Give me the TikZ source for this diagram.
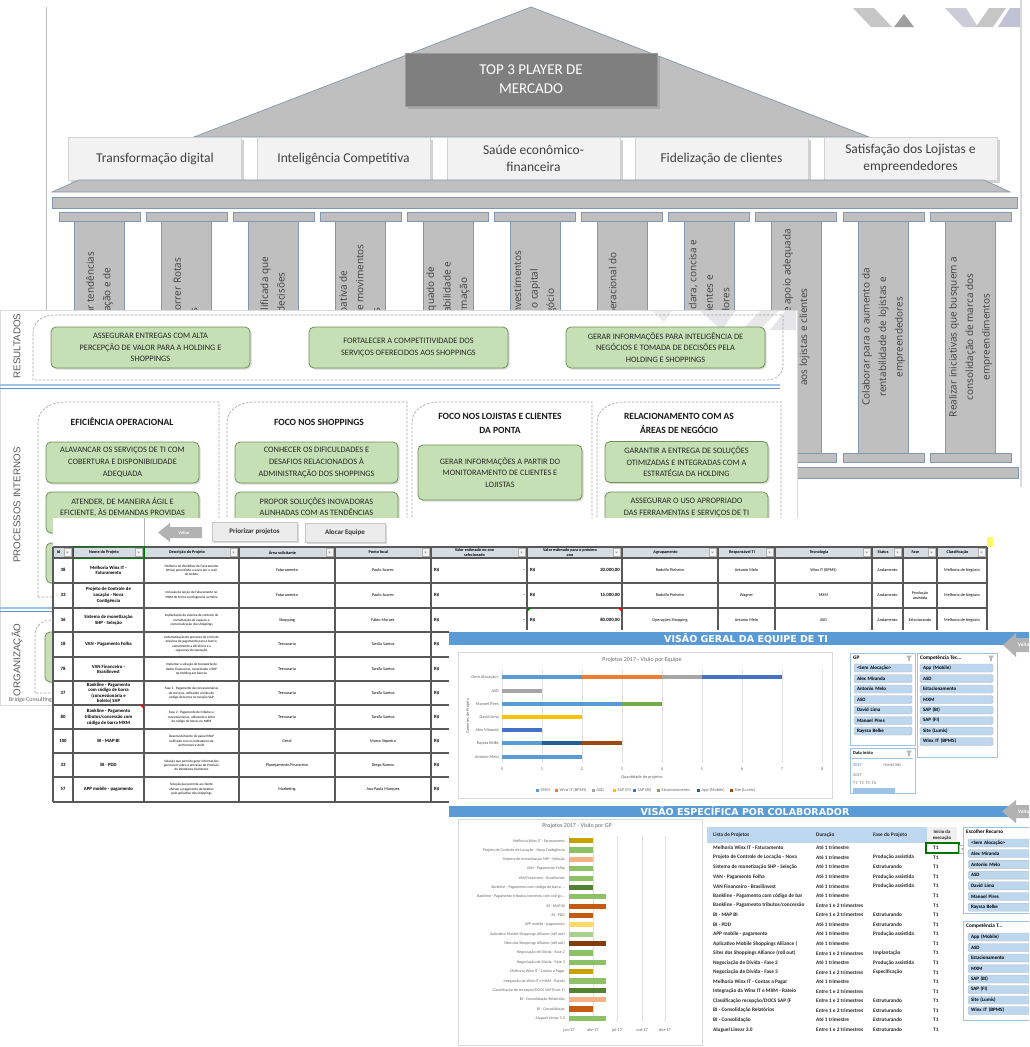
\documentclass[tikz,border=0pt]{standalone}
\usepackage{fontspec}
\setmainfont{Carlito}
\newfontfamily\pillarfont{Open Sans}
\newfontfamily\sidefont{Liberation Sans}
\newfontfamily\viewfont{DejaVu Sans}
\usetikzlibrary{positioning,shadows}
\newcommand{\fsz}[2]{\fontsize{#1}{#2}\selectfont}
\newcommand{\funnelicon}[2]{\fill[gray!55] (#1-3,#2-2.5) -- (#1+3,#2-2.5) -- (#1+0.8,#2+0.5) -- (#1+0.8,#2+3) -- (#1-0.8,#2+3) -- (#1-0.8,#2+0.5) -- cycle;}

\definecolor{roofgray}{HTML}{BFBFBF}
\definecolor{slate}{HTML}{8497B0}
\definecolor{topgray}{HTML}{7F7F7F}
\definecolor{boxgray}{HTML}{F2F2F2}
\definecolor{txtgray}{HTML}{404040}
\definecolor{greenfill}{HTML}{C5E0B4}
\definecolor{greenline}{HTML}{70905A}
\definecolor{dashgray}{HTML}{A6A6A6}
\definecolor{barblue}{HTML}{5B9BD5}
\definecolor{slicerblue}{HTML}{BDD7EE}
\definecolor{slicerline}{HTML}{9DC3E6}
\definecolor{hdrgray}{HTML}{D6DCE4}
\definecolor{gridline}{HTML}{595959}
\definecolor{cMSM}{HTML}{5B9BD5}
\definecolor{cWinx}{HTML}{ED7D31}
\definecolor{cASD}{HTML}{A5A5A5}
\definecolor{cSAPFI}{HTML}{FFC000}
\definecolor{cSAPBI}{HTML}{4472C4}
\definecolor{cEst}{HTML}{70AD47}
\definecolor{cApp}{HTML}{255E91}
\definecolor{cSite}{HTML}{9E480E}
\definecolor{gGold}{HTML}{C9A100}
\definecolor{gGreen}{HTML}{8CC168}
\definecolor{gSalmon}{HTML}{F4B183}
\definecolor{gDark}{HTML}{548235}
\definecolor{gOrange}{HTML}{C55A11}
\definecolor{gYellow}{HTML}{FFD966}
\definecolor{gPale}{HTML}{A9D18E}
\definecolor{gBrown}{HTML}{843C0C}

\begin{document}
\begin{tikzpicture}[x=1pt,y=-1pt,
  roofpart/.style={fill=roofgray,draw=slate,line width=.7},
  goalbox/.style={fill=boxgray,draw=gray!35,minimum width=173,minimum height=43,align=center,text=txtgray,font=\fsz{13.5}{17},drop shadow={shadow xshift=2.5pt,shadow yshift=-2.5pt,opacity=.35}},
  topbox/.style={fill=topgray,draw=gray!80,minimum width=252,minimum height=53,align=center,text=white,font=\fsz{15}{19},drop shadow={shadow xshift=2.5pt,shadow yshift=-2.5pt,opacity=.35}},
  pillartext/.style={rotate=90,align=center,text=txtgray,font=\pillarfont\fsz{10}{16.5}},
  sidelabel/.style={rotate=90,text=black!65,font=\sidefont\fsz{9.8}{11}},
  dashbox/.style={draw=dashgray,dash pattern=on 2.5pt off 1.5pt,line width=.7},
  greenbox/.style={rounded corners=5,fill=greenfill,draw=greenline,line width=.8,align=center,text=black!85,font=\fsz{8.3}{11.7},drop shadow={shadow xshift=1.5pt,shadow yshift=-1.5pt,opacity=.3}},
  heading/.style={align=center,text=black!90,font=\bfseries\fsz{9.5}{13.3}},
  btn/.style={fill=gray!15,draw=gray!45,minimum height=19,font=\bfseries\fsz{7}{8},text=black!80,drop shadow={shadow xshift=1.5pt,shadow yshift=-1.5pt,opacity=.3}},
  hdrtext/.style={align=center,font=\bfseries\fsz{4.2}{4.6},inner sep=0},
  celltext/.style={align=center,font=\fsz{4.2}{5},inner sep=0},
  cellbold/.style={align=center,font=\bfseries\fsz{4.8}{5.6},inner sep=0},
  desctext/.style={align=center,font=\fsz{3.4}{4.3},inner sep=0},
  tablegrid/.style={draw=gridline,line width=1.1},
  viewtitle/.style={text=white,font=\viewfont\bfseries\fsz{9.5}{11},inner sep=0},
  charttitle/.style={text=black!60,font=\fsz{6}{7}},
  ticklabel/.style={text=black!60,font=\fsz{4.3}{5},inner sep=1},
  sitem/.style={fill=slicerblue,draw=gray!55,rounded corners=1.5,minimum height=8,inner xsep=3,inner ysep=0,align=left,text width=#1,font=\bfseries\fsz{5}{5.5}},
  stitle/.style={font=\bfseries\fsz{5.3}{6},inner sep=0,anchor=west},
  listtext/.style={anchor=west,inner sep=0,font=\bfseries\fsz{5.3}{6},text=black!85}
]
\useasboundingbox (0,0) rectangle (1029,1047);
\clip (0,0) rectangle (1029,1047);
\fill[white] (0,0) rectangle (1029,1047);

% slide 1: the temple
\draw[gray!50] (46,7) -- (46,500);
\draw[gray!30,line width=1.5] (1021,0) -- (1021,487);
\fill[gray!45] (853,8) -- (874,8) -- (892,27) -- (871,27) -- cycle;
\fill[gray!75] (894,27) -- (904,14) -- (914,27) -- cycle;
\fill[blue!15!gray!35] (945,8) -- (966,8) -- (978,27) -- (963,27) -- cycle;
\fill[gray!45] (976,27) -- (989,8) -- (1006,8) -- (993,27) -- cycle;
\fill[blue!20!gray!40] (998,27) -- (1010,8) -- (1020,8) -- (1020,27) -- cycle;
\fill[roofpart] (531,7) -- (869,137) -- (194,137) -- cycle;
\node[topbox] (top3) at (531,79.5) {TOP 3 PLAYER DE\\MERCADO};
\node[goalbox] (g1) at (155,158.5) {Transformação digital};
\node[goalbox] (g2) at (343.5,158.5) {Inteligência Competitiva};
\node[goalbox] (g3) at (533.5,158.5) {Saúde econômico-\\financeira};
\node[goalbox] (g4) at (721.5,158.5) {Fidelização de clientes};
\node[goalbox] (g5) at (910.5,158.5) {Satisfação dos Lojistas e\\empreendedores};
\draw[roofpart] (79,180) -- (984,180) -- (1010,192) -- (52,192) -- cycle;
\draw[roofpart] (52,197) rectangle (1017,208);
\foreach \i/\txt in {0/{Identificar e acompanhar tendências\\de mercado, de inovação e de},
                     1/{Definir, planejar e percorrer Rotas\\Tecnológicas},
                     2/{Prover informação qualificada que\\apoie as principais decisões},
                     3/{Ter uma atuação proativa de\\antecipação e avaliação de movimentos\\tecnológicos},
                     4/{Manter um nível adequado de\\disponibilidade, confiabilidade e\\segurança da informação},
                     5/{Priorizar e racionalizar investimentos\\de TI para preservar o capital\\investido no negócio},
                     6/{Garantir a excelência operacional do\\negócio},
                     7/{Manter uma comunicação clara, concisa e\\efetiva junto aos clientes e\\com os fornecedores},
                     8/{Prover estrutura de suporte e apoio adequada\\aos lojistas e clientes},
                     9/{Colaborar para o aumento da\\rentabilidade de lojistas e\\empreendedores},
                     10/{Realizar iniciativas que busquem a\\consolidação de marca dos\\empreendimentos}}
  {
  \pgfmathsetmacro{\cx}{99.5+87.1*\i}
  \draw[roofpart] (\cx-40.5,212) rectangle (\cx+40.5,221);
  \draw[roofpart] (\cx-25,221) rectangle (\cx+25,453);
  \draw[roofpart] (\cx-40.5,453) rectangle (\cx+40.5,462);
  \node[pillartext] (p\i) at (\cx,337) {\txt};
  }
\draw[roofpart] (52,467) rectangle (1018,478);

% slide 2: strategy map
\fill[white,draw=gray!30] (0,310) rectangle (797,705);
\fill[gray!15] (652,311) -- (672,311) -- (664,322) -- cycle;
\fill[blue!10!gray!18] (700,311) -- (735,311) -- (722,330) -- cycle;
\fill[gray!18] (742,330) -- (760,311) -- (778,311) -- (760,330) -- cycle;
\fill[blue!10!gray!18] (770,330) -- (785,311) -- (796,311) -- (796,330) -- cycle;
\node[sidelabel] (lres) at (17,346) {RESULTADOS};
\node[sidelabel] (lproc) at (17,505) {PROCESSOS INTERNOS};
\node[sidelabel] (lorg) at (17,660) {ORGANIZAÇÃO};
\draw[dashbox] (33,333) .. controls (33,322) and (42,315) .. (55,315) -- (783,315) -- (783,366) .. controls (783,374) and (776,380) .. (766,380) -- (33,380) -- cycle;
\node[greenbox,minimum width=199,minimum height=41] (res1) at (150.5,347.5) {ASSEGURAR ENTREGAS COM ALTA\\PERCEPÇÃO DE VALOR PARA A HOLDING E\\SHOPPINGS};
\node[greenbox,minimum width=199,minimum height=41] (res2) at (408.5,347.5) {FORTALECER A COMPETITIVIDADE DOS\\SERVIÇOS OFERECIDOS AOS SHOPPINGS};
\node[greenbox,minimum width=199,minimum height=41] (res3) at (665.5,347.5) {GERAR INFORMAÇÕES PARA INTELIGÊNCIA DE\\NEGÓCIOS E TOMADA DE DECISÕES PELA\\HOLDING E SHOPPINGS};
\draw[slicerline,line width=1.3] (0,385) -- (780,385);
\draw[cSAPBI!80,line width=1] (0,388.5) -- (780,388.5);
\foreach \L/\R in {38/219,227/407,412/592,597/781}
  \draw[dashbox] (\L,597) -- (\L,422) .. controls (\L,410) and (\L+12,402) .. (\L+28,402) -- (\R,402) -- (\R,597) -- cycle;
\node[heading] (h1) at (122,422) {EFICIÊNCIA OPERACIONAL};
\node[heading] (h2) at (319,422) {FOCO NOS SHOPPINGS};
\node[heading] (h3) at (500,423.5) {FOCO NOS LOJISTAS E CLIENTES\\DA PONTA};
\node[heading] (h4) at (679,423.5) {RELACIONAMENTO COM AS\\ÁREAS DE NEGÓCIO};
\node[greenbox,minimum width=153,minimum height=41] (pi1) at (122.5,462.5) {ALAVANCAR OS SERVIÇOS DE TI COM\\COBERTURA E DISPONIBILIDADE\\ADEQUADA};
\node[greenbox,minimum width=153,minimum height=41] (pi2) at (122.5,512.5) {ATENDER, DE MANEIRA ÁGIL E\\EFICIENTE, ÀS DEMANDAS PROVIDAS\\~};
\node[greenbox,minimum width=153,minimum height=40] (pi3) at (122.5,563) {};
\node[greenbox,minimum width=163,minimum height=41] (pi4) at (316.5,462.5) {CONHECER OS DIFICULDADES E\\DESAFIOS RELACIONADOS À\\ADMINISTRAÇÃO DOS SHOPPINGS};
\node[greenbox,minimum width=163,minimum height=41] (pi5) at (316.5,512.5) {PROPOR SOLUÇÕES INOVADORAS\\ALINHADAS COM AS TENDÊNCIAS\\~};
\node[greenbox,minimum width=164,minimum height=55] (pi6) at (500,472.5) {GERAR INFORMAÇÕES A PARTIR DO\\MONITORAMENTO DE CLIENTES E\\LOJISTAS};
\node[greenbox,minimum width=163,minimum height=41] (pi7) at (686.5,462) {GARANTIR A ENTREGA DE SOLUÇÕES\\OTIMIZADAS E INTEGRADAS COM A\\ESTRATÉGIA DA HOLDING};
\node[greenbox,minimum width=163,minimum height=41] (pi8) at (686.5,512.5) {ASSEGURAR O USO APROPRIADO\\DAS FERRAMENTAS E SERVIÇOS DE TI\\~};
\draw[slicerline,line width=1.3] (0,608) -- (780,608);
\draw[cSAPBI!80,line width=1] (0,611.5) -- (780,611.5);
\draw[dashbox] (35,693) -- (35,635) .. controls (35,626) and (42,620) .. (52,620) -- (781,620) -- (781,693) -- cycle;
\node[greenbox,minimum width=155,minimum height=50] (org1) at (122.5,657) {};
\node[anchor=west,font=\fsz{6}{7},text=black!60,inner sep=0] (brand) at (9,700) {Bridge Consulting};

% screenshot 3: project table
\fill[white] (53,518) rectangle (1029,803);
\draw[gray!60] (144,518) -- (144,547);
\fill[gray!60] (158,532.5) -- (170,523) -- (170,527) -- (202,527) -- (202,538) -- (170,538) -- (170,542) -- cycle;
\node[text=white,font=\bfseries\fsz{4.5}{5},inner sep=0] (voltarA) at (184,532.5) {Voltar};
\node[btn,minimum width=85] (prio) at (254.5,531.5) {Priorizar projetos};
\node[btn,minimum width=80] (aloc) at (345,532.5) {Alocar Equipe};
\fill[hdrgray] (53,547) rectangle (987,558);
\fill[yellow!60] (987,537) rectangle (993,547);
\foreach \a/\b/\h in {53/73/Id,73/144/{Nome do Projeto},144/239/{Descrição do Projeto},239/335/{Área solicitante},335/431/{Ponto focal},431/527/{Valor estimado no ano\\selecionado},527/622/{Valor estimado para o próximo\\ano},622/718/Agrupamento,718/775/{Responsável TI},775/872/Tecnologia,872/903/Status,903/937/Fase,937/987/Classificação}
  {
  \node[hdrtext] (hd\a) at ({(\a+\b)/2-4.5},552.5) {\h};
  \draw[gray!60,fill=gray!8] (\b-9,548.5) rectangle (\b-2,556.5);
  \fill[gray!70] (\b-7,551.5) -- (\b-4,551.5) -- (\b-5.5,553.5) -- cycle;
  }
\foreach \ry/\id/\nome/\desc/\area/\ponto [count=\k] in {
  558/38/{Melhoria Winx IT -\\Faturamento}/{Melhoria do Workflow de Faturamento\\(Winx) permitindo o envio por e-mail\\do boleto}/Faturamento/{Paulo Soares},
  583/33/{Projeto de Controle de\\Locação - Nova\\Contigência}/{Inclusão da opção de Faturamento no\\MXM de forma contingencial ao Winx}/Faturamento/{Paulo Soares},
  608/36/{Sistema de monetização\\SHP - Seleção}/{Implantação do sistema de controle de\\monetização de espaços e\\comercialização dos shoppings}/Shopping/{Fábio Moraes},
  632/18/{VAN - Pagamento Folha}/{Automatização do processo de envio de\\arquivos de pagamento para o banco,\\aumentando a eficiência e a\\segurança da operação}/Tesouraria/{Tarsila Santos},
  657/78/{VAN Financeiro -\\Brasilinvest}/{Implantar a solução de transporte de\\dados financeiros, conectando o ERP\\da Holding aos bancos}/Tesouraria/{Tarsila Santos},
  681/37/{Bankline - Pagamento\\com código de barra\\(concessionária e\\boleto) SAP}/{Fase 1 - Pagamento de concessionárias\\de serviços, utilizando o leitor de\\código de barras na solução SAP}/Tesouraria/{Tarsila Santos},
  705/80/{Bankline - Pagamento\\tributos/concessão com\\código de barra MXM}/{Fase 2 - Pagamento de tributos e\\concessionárias, utilizando o leitor\\de código de barras no MXM}/Tesouraria/{Tarsila Santos},
  729/100/{BI - MAP BI}/{Desenvolvimento do painel MAP\\unificado com os indicadores de\\performance do BI}/Geral/{Marco Siqueira},
  753/33/{BI - PDD}/{Solução que permita gerar informações\\gerenciais sobre o processo de Provisão\\de Devedores Duvidosos}/{Planejamento Financeiro}/{Diego Ramos},
  777/57/{APP mobile - pagamento}/{Solução que permita ao cliente\\efetuar o pagamento de boletos\\pelo aplicativo dos shoppings}/Marketing/{Ana Paula Marques}}
  {
  \node[cellbold] (rid\k) at (63,\ry+12.2) {\id};
  \node[cellbold] (rnm\k) at (108.5,\ry+12.2) {\nome};
  \node[desctext] (rds\k) at (191.5,\ry+12.2) {\desc};
  \node[celltext] (rar\k) at (287,\ry+12.2) {\area};
  \node[celltext] (rpf\k) at (383,\ry+12.2) {\ponto};
  \node[cellbold,anchor=west] (rva\k) at (434,\ry+12.2) {R\$};
  }
\foreach \ry/\val/\agr/\resp/\tec/\fase [count=\k] in {
  558/{20.000,00}/{Rodolfo Pinheiro}/{Antonio Melo}/{Winx IT (BPMS)}/{},
  583/{15.000,00}/{Rodolfo Pinheiro}/Wagner/MXM/{Produção\\assistida},
  608/{80.000,00}/{Operações Shopping}/{Antonio Melo}/ASD/Estruturando}
  {
  \node[cellbold] (rdash\k) at (524,\ry+12.2) {-};
  \node[cellbold,anchor=west] (rvb\k) at (530,\ry+12.2) {R\$};
  \node[cellbold,anchor=east] (rvv\k) at (620,\ry+12.2) {\val};
  \node[celltext] (rag\k) at (670,\ry+12.2) {\agr};
  \node[celltext] (rre\k) at (746.5,\ry+12.2) {\resp};
  \node[celltext] (rte\k) at (823.5,\ry+12.2) {\tec};
  \node[celltext] (rst\k) at (887.5,\ry+12.2) {Andamento};
  \node[celltext] (rfa\k) at (920,\ry+12.2) {\fase};
  \node[celltext] (rcl\k) at (962,\ry+12.2) {Melhoria de Negócio};
  }
\foreach \yy in {547,558,583,608,632,657,681,705,729,753,777,802}
  \draw[tablegrid] (53,\yy) -- (987,\yy);
\foreach \xx in {53,73,144,239,335,431,527,622,718,775,872,903,937,987}
  \draw[tablegrid] (\xx,547) -- (\xx,802);
\draw[green!45!black,line width=1] (73,546.5) rectangle (144,558);
\fill[red] (140,705) -- (144,705) -- (144,709) -- cycle;
\fill[green!50!black] (527,608) -- (531,608) -- (527,612) -- cycle;
\fill[red] (618,608) -- (622,608) -- (622,612) -- cycle;

% screenshot 4: team overview
\fill[white] (449,630) rectangle (1029,803);
\fill[barblue] (449,632) rectangle (1029,645);
\node[viewtitle,anchor=east] (vgtitle) at (828,638.5) {VISÃO GERAL DA EQUIPE DE TI};
\fill[gray!60] (1003,645) -- (1016,633) -- (1016,638) -- (1029,638) -- (1029,652) -- (1016,652) -- (1016,657) -- cycle;
\node[text=white,font=\bfseries\fsz{5}{6},inner sep=0,anchor=west] (voltarB) at (1018,645) {Voltar};
\draw[gray!30] (458,652) rectangle (832,798);
\node[charttitle] (ct1) at (642,660) {Projetos 2017 - Visão por Equipe};
\foreach \k in {0,...,8}
  {
  \draw[gray!25] (502+40*\k,670) -- (502+40*\k,763);
  \node[ticklabel] (tx\k) at (502+40*\k,769) {\k};
  }
\node[ticklabel] (xtitle) at (642,777) {Quantidade de projetos};
\node[ticklabel,rotate=90] (ytitle) at (468,716) {Gerentes de Projeto};
\foreach \n/\yy [count=\k] in {{<Sem Alocação>}/677.3,ASD/690.7,{Manoel Pires}/704,{David Lima}/716.7,{Alex Miranda}/730,{Rayssa Belke}/743,{Antonio Melo}/756.7}
  \node[ticklabel,anchor=east] (cat\k) at (500,\yy) {\n};
\foreach \yy/\a/\b/\c in {677.3/0/2/cMSM,677.3/2/4/cWinx,677.3/4/5/cASD,677.3/5/7/cSAPBI,690.7/0/1/cASD,704/0/3/cMSM,704/3/4/cEst,716.7/0/2/cSAPFI,730/0/1/cSAPBI,743/0/1/cMSM,743/1/2/cApp,743/2/3/cSite,756.7/0/2/cMSM}
  \fill[\c] (502+40*\a,\yy-2) rectangle (502+40*\b,\yy+2);
\foreach \lx/\c/\t [count=\k] in {536/cMSM/MSM,555/cWinx/{Winx IT (BPMS)},592/cASD/ASD,613/cSAPFI/{SAP (FI)},633/cSAPBI/{SAP (BI)},657/cEst/Estacionamento,697/cApp/{App (Mobile)},730/cSite/{Site (Lumis)}}
  {
  \fill[\c] (\lx,788.5) rectangle (\lx+3,791.5);
  \node[ticklabel,anchor=west,inner sep=0] (leg\k) at (\lx+4.5,790) {\t};
  }
\draw[slicerline,fill=white,line width=.8] (850,653) rectangle (915,745);
\node[stitle] (gpt) at (853,658) {GP};
\funnelicon{909}{658}
\foreach \t [count=\k from 0] in {{<Sem Alocação>},Alex Miranda,Antonio Melo,ASD,David Lima,Manoel Pires,Rayssa Belke}
  \node[sitem=52] (gpi\k) at (883,668+10.5*\k) {\t};
\draw[slicerline,fill=white,line width=.8] (917,653) rectangle (997,757);
\node[stitle] (ctt) at (920,658) {Competência Tec...};
\funnelicon{991}{658}
\foreach \t [count=\k from 0] in {App (Mobile),ASD,Estacionamento,MXM,SAP (BI),SAP (FI),Site (Lumis),Winx IT (BPMS)}
  \node[sitem=67] (cti\k) at (956.5,668+10.5*\k) {\t};
\draw[slicerline,fill=white,line width=.8] (850,748) rectangle (915,793);
\node[stitle,font=\bfseries\fsz{4.5}{5}] (dti) at (853,753) {Data início};
\funnelicon{909}{753}
\draw[slicerline] (852,758) -- (913,758);
\node[ticklabel,anchor=west,inner sep=0,text=cSAPBI] (dty) at (853,765) {2017};
\node[ticklabel,anchor=west,inner sep=0,font=\fsz{3.6}{4}] (dtr) at (883,765) {TRIMESTRES};
\node[ticklabel,anchor=west,inner sep=0] (dty2) at (853,775) {2017};
\node[ticklabel,anchor=west,inner sep=0] (dtq) at (853,783) {T1\ \ T2\ \ T3\ \ T4};
\fill[slicerline] (853,788) rectangle (895,793);

% screenshot 5: per-collaborator view
\fill[white] (449,803) rectangle (1029,1047);
\fill[barblue] (449,806) rectangle (1029,817);
\node[viewtitle] (vetitle) at (745,811.5) {VISÃO ESPECÍFICA POR COLABORADOR};
\fill[gray!60] (1002,811.5) -- (1016,800) -- (1016,805) -- (1029,805) -- (1029,818) -- (1016,818) -- (1016,823) -- cycle;
\node[text=white,font=\bfseries\fsz{5}{6},inner sep=0,anchor=west] (voltarC) at (1018,811.5) {Voltar};
\draw[gray!30] (458,819) rectangle (702,1045);
\node[charttitle] (ct2) at (577,826) {Projetos 2017 - Visão por GP};
\foreach \gx/\m [count=\k] in {569/jan-17,593/abr-17,617/jul-17,642/out-17,665/dez-17}
  {
  \draw[gray!25] (\gx,836) -- (\gx,1022);
  \node[ticklabel] (mx\k) at (\gx,1030) {\m};
  }
\foreach \t/\e/\c [count=\k from 0] in {
  {Melhoria Winx IT - Faturamento}/593/gGold,
  {Projeto de Controle de Locação - Nova Contigência}/593/gGreen,
  {Sistema de monetização SHP - Seleção}/593/gSalmon,
  {VAN - Pagamento Folha}/593/gGreen,
  {VAN Financeiro - Brasilinvest}/593/gGreen,
  {Bankline - Pagamento com código de barra ...}/593/gDark,
  {Bankline - Pagamento tributos/convênio com cód go...}/606/gGreen,
  {BI - MAP BI}/606/gOrange,
  {BI - PDD}/593/gOrange,
  {APP mobile - pagamento}/593/gYellow,
  {Aplicativo Mobile Shoppings Alliance (roll out)}/593/gPale,
  {Sites dos Shoppings Alliance (roll out)}/606/gBrown,
  {Negociação de Dívida - Fase 2}/593/gGreen,
  {Negociação de Dívida - Fase 3}/606/gGreen,
  {Melhoria Winx IT - Contas a Pagar}/593/gGold,
  {Integração da Winx IT e MXM - Rateio}/606/gGreen,
  {Classificação de recepção/DOCS SAP (Fase 1)}/606/gDark,
  {BI - Consolidação Relatórios}/606/gSalmon,
  {BI - Consolidação}/593/gOrange,
  {Aluguel Linear 3.0}/606/gGreen}
  {
  \node[ticklabel,anchor=east,font=\fsz{4}{4.5}] (gpl\k) at (566,840.7+9.35*\k) {\t};
  \fill[\c] (569,840.7+9.35*\k-2.6) rectangle (\e,840.7+9.35*\k+2.6);
  }
\fill[slicerblue] (707,827) rectangle (927,843);
\fill[gray!12] (927,827) rectangle (957,843);
\node[listtext] (lh1) at (713,835) {Lista de Projetos};
\node[listtext] (lh2) at (816,835) {Duração};
\node[listtext] (lh3) at (873,835) {Fase do Projeto};
\node[listtext,anchor=center,align=center,font=\bfseries\fsz{4.8}{5.6}] (lh4) at (942,835) {Início da\\execução};
\begin{scope}
\clip (707,843) rectangle (814,1040);
\foreach \n [count=\k from 0] in {{Melhoria Winx IT - Faturamento},{Projeto de Controle de Locação - Nova},{Sistema de monetização SHP - Seleção},{VAN - Pagamento Folha},{VAN Financeiro - Brasilinvest},{Bankline - Pagamento com código de bar},{Bankline - Pagamento tributos/concessão},{BI - MAP BI},{BI - PDD},{APP mobile - pagamento},{Aplicativo Mobile Shoppings Alliance (},{Sites dos Shoppings Alliance (roll out)},{Negociação de Dívida - Fase 2},{Negociação de Dívida - Fase 3},{Melhoria Winx IT - Contas a Pagar},{Integração da Winx IT e MXM - Rateio},{Classificação recepção/DOCS SAP (F},{BI - Consolidação Relatórios},{BI - Consolidação},{Aluguel Linear 3.0}}
  \node[listtext] (ln\k) at (713,848+9.56*\k) {\n};
\end{scope}
\foreach \d/\f [count=\k from 0] in {{Até 1 trimestre}/{},{Até 1 trimestre}/{Produção assistida},{Até 1 trimestre}/{Estruturando},{Até 1 trimestre}/{Produção assistida},{Até 1 trimestre}/{Produção assistida},{Até 1 trimestre}/{},{Entre 1 e 2 trimestres}/{},{Entre 1 e 2 trimestres}/{Estruturando},{Até 1 trimestre}/{Estruturando},{Até 1 trimestre}/{Produção assistida},{Até 1 trimestre}/{},{Entre 1 e 2 trimestres}/{Implantação},{Até 1 trimestre}/{Produção assistida},{Entre 1 e 2 trimestres}/{Especificação},{Até 1 trimestre}/{},{Entre 1 e 2 trimestres}/{},{Entre 1 e 2 trimestres}/{Estruturando},{Entre 1 e 2 trimestres}/{Estruturando},{Até 1 trimestre}/{Estruturando},{Entre 1 e 2 trimestres}/{Estruturando}}
  {
  \node[listtext] (ld\k) at (816,848+9.56*\k) {\d};
  \node[listtext] (lf\k) at (873,848+9.56*\k) {\f};
  \node[listtext] (lt\k) at (933,848+9.56*\k) {T1};
  }
\draw[green!45!black,line width=1.2] (926,843) rectangle (959,853);
\draw[gray!55,fill=white] (959,845) rectangle (967,853);
\fill[gray!70] (961,848) -- (965,848) -- (963,850.5) -- cycle;
\draw[slicerline,fill=white,line width=.8] (963,827) rectangle (1040,913);
\node[stitle] (ert) at (966,832) {Escolher Recurso};
\foreach \t [count=\k from 0] in {{<Sem Alocação>},Alex Miranda,Antonio Melo,ASD,David Lima,Manoel Pires,Rayssa Belke}
  \node[sitem=64] (eri\k) at (1003,843+10.7*\k) {\t};
\draw[slicerline,fill=white,line width=.8] (963,921) rectangle (1040,1020);
\node[stitle] (ctt2) at (966,926) {Competência T...};
\foreach \t [count=\k from 0] in {App (Mobile),ASD,Estacionamento,MXM,SAP (BI),SAP (FI),Site (Lumis),Winx IT (BPMS)}
  \node[sitem=64] (cti2\k) at (1003,937+10.5*\k) {\t};
\end{tikzpicture}
\end{document}
